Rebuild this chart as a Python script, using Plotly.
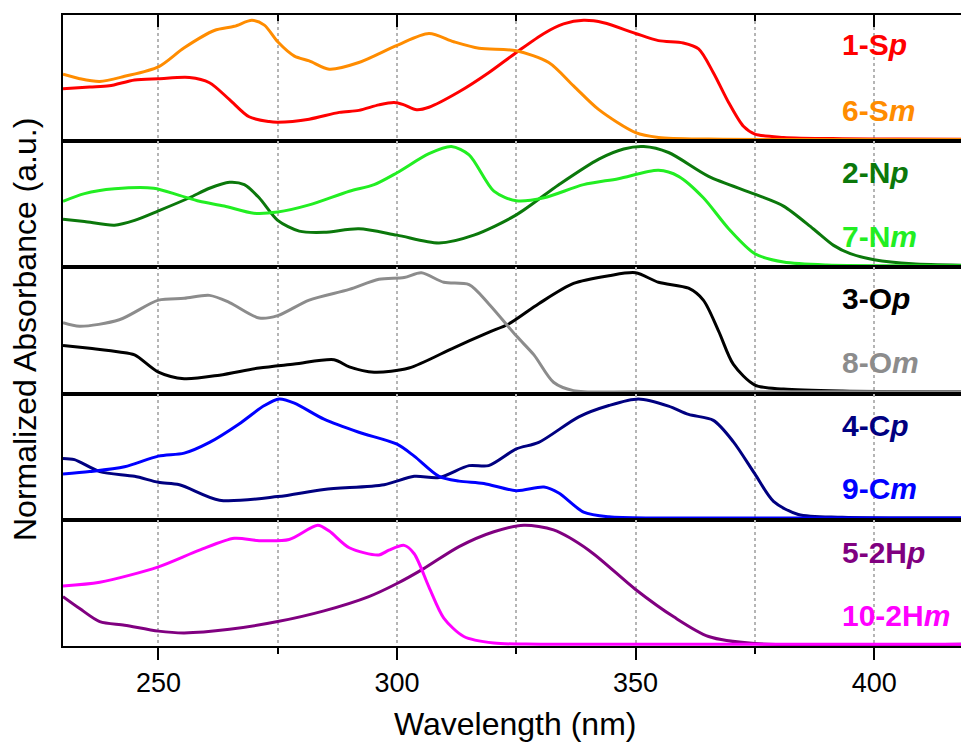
import plotly.graph_objects as go

# ---------------- data (normalized absorbance) ----------------
wl_1Sp = [230, 235.6, 239.7, 245, 250, 256.5, 260.7, 264.9, 269, 273.2, 275, 281.6, 287.9, 292, 296.2, 299.4,
          301.5, 304.1, 306.7, 313, 319.2, 325, 330.8, 334.9, 339.1, 343.3, 350, 354.8, 360, 363.2, 366.3,
          369.5, 372.6, 375, 381, 393.3, 405, 420]
ab_1Sp = [0.425, 0.44, 0.45, 0.50, 0.51, 0.52, 0.476, 0.334, 0.19, 0.15, 0.145, 0.17, 0.227, 0.244, 0.29, 0.31,
          0.29, 0.25, 0.27, 0.40, 0.56, 0.73, 0.89, 0.97, 1.0, 0.98, 0.89, 0.83, 0.81, 0.76, 0.56,
          0.31, 0.11, 0.045, 0.017, 0.006, 0.003, 0.002]

wl_6Sm = [230, 233.5, 237.7, 242.9, 250, 255.4, 261.7, 265.9, 269.6, 272.2, 275, 278.5, 281.6, 285.8, 292, 300,
          306.7, 311.9, 317.2, 325, 331.8, 337, 342.3, 350, 354.8, 365.3, 380, 420]
ab_6Sm = [0.547, 0.51, 0.487, 0.53, 0.61, 0.77, 0.915, 0.95, 1.0, 0.96, 0.82, 0.70, 0.66, 0.59, 0.646, 0.79,
          0.89, 0.82, 0.765, 0.745, 0.646, 0.45, 0.25, 0.057, 0.017, 0.003, 0.0, 0.0]

wl_2Np = [230, 234.5, 240.8, 245, 250, 256.5, 260.7, 264.9, 268, 271.1, 275, 279.5, 284.7, 292, 300, 308.8,
          316.1, 325, 333.9, 342.3, 347.5, 351.7, 356.9, 365.3, 375, 381, 387.2, 391.5, 395, 400, 408, 420]
ab_2Np = [0.39, 0.37, 0.34, 0.38, 0.46, 0.57, 0.65, 0.70, 0.68, 0.57, 0.38, 0.29, 0.28, 0.31, 0.256, 0.19,
          0.256, 0.426, 0.68, 0.895, 0.98, 1.0, 0.95, 0.75, 0.60, 0.50, 0.31, 0.17, 0.10, 0.05, 0.015, 0.003]

wl_7Nm = [230, 234.5, 240.8, 249, 254.4, 258.6, 263.8, 270, 275, 281.6, 290, 295.2, 300, 306.7, 311.4, 315.1,
          320.3, 325, 330.8, 339.1, 346.4, 354.8, 359, 364.2, 369.5, 375, 381, 390, 420]
ab_7Nm = [0.54, 0.605, 0.645, 0.65, 0.59, 0.54, 0.50, 0.44, 0.45, 0.51, 0.625, 0.68, 0.78, 0.94, 1.0, 0.93,
          0.625, 0.545, 0.57, 0.68, 0.73, 0.80, 0.75, 0.57, 0.31, 0.10, 0.03, 0.005, 0.0]

wl_3Op = [230, 235.6, 241.8, 245, 250, 255.4, 262.8, 271.1, 278.5, 286.8, 290, 295.2, 302.5, 311.9, 319.2,
          323.4, 329.7, 337, 344.4, 350, 354.8, 361.1, 364.2, 367.4, 370.5, 375, 381, 393.3, 420]
ab_3Op = [0.39, 0.365, 0.335, 0.31, 0.165, 0.11, 0.14, 0.20, 0.233, 0.27, 0.21, 0.165, 0.20, 0.37, 0.50,
          0.57, 0.74, 0.91, 0.975, 1.0, 0.92, 0.87, 0.77, 0.51, 0.23, 0.057, 0.023, 0.006, 0.0]

wl_8Om = [230, 233.5, 241.8, 250, 255.4, 260.7, 264.9, 271.1, 275, 281.6, 290, 296.2, 301.5, 305.1, 309.8,
          315.1, 319.2, 325, 328.7, 332.8, 337, 350, 420]
ab_8Om = [0.58, 0.55, 0.605, 0.77, 0.785, 0.81, 0.75, 0.62, 0.64, 0.77, 0.86, 0.945, 0.96, 1.0, 0.92,
          0.90, 0.74, 0.47, 0.31, 0.08, 0.01, 0.0, 0.0]

wl_4Cp = [230, 232.4, 237.7, 245, 250, 254.4, 262.8, 275, 284.7, 297.3, 303.6, 308.8, 315.1, 319.2, 325,
          329.7, 338.1, 344.4, 350.6, 356.9, 361.1, 366.3, 370.5, 375, 378.9, 384.1, 393.3, 420]
ab_4Cp = [0.50, 0.49, 0.39, 0.35, 0.30, 0.28, 0.15, 0.18, 0.24, 0.28, 0.35, 0.34, 0.44, 0.44, 0.58,
          0.635, 0.85, 0.945, 1.0, 0.94, 0.87, 0.82, 0.64, 0.37, 0.14, 0.03, 0.006, 0.0]

wl_9Cm = [230, 235.6, 242.9, 250, 255.4, 260.7, 266.9, 272.2, 275.3, 278.5, 284.7, 292, 300, 303.6, 308.8,
          313, 318.2, 325, 330.8, 333.9, 339.1, 344.4, 355, 420]
ab_9Cm = [0.37, 0.39, 0.43, 0.52, 0.545, 0.635, 0.79, 0.945, 1.0, 0.965, 0.83, 0.72, 0.62, 0.52, 0.35,
          0.31, 0.29, 0.23, 0.26, 0.21, 0.05, 0.01, 0.0, 0.0]

wl_52Hp = [230, 233.5, 237.7, 242.9, 250, 255.4, 264.9, 275, 284.7, 294.1, 300, 305.6, 313, 320.3, 326.6,
           332.8, 340.2, 350, 358, 365.3, 375, 420]
ab_52Hp = [0.40, 0.30, 0.19, 0.16, 0.11, 0.095, 0.125, 0.19, 0.28, 0.40, 0.51, 0.635, 0.82, 0.945, 1.0,
           0.96, 0.79, 0.46, 0.23, 0.065, 0.006, 0.0]

wl_102Hm = [230, 237.7, 250, 258.6, 265.9, 271.1, 277.4, 283.4, 285.8, 290, 296.2, 298.3, 301.5, 303.6, 306.7,
            309.8, 314, 320.3, 330, 420]
ab_102Hm = [0.49, 0.52, 0.65, 0.79, 0.89, 0.87, 0.88, 1.0, 0.95, 0.81, 0.75, 0.79, 0.83, 0.76, 0.48,
            0.22, 0.065, 0.01, 0.0, 0.0]

labels = ["1-S<i>p</i>", "6-S<i>m</i>", "2-N<i>p</i>", "7-N<i>m</i>", "3-O<i>p</i>", "8-O<i>m</i>",
          "4-C<i>p</i>", "9-C<i>m</i>", "5-2H<i>p</i>", "10-2H<i>m</i>"]
colors = ["#FF0000", "#FF8C00", "#0B780B", "#22EE22", "#000000", "#8C8C8C",
          "#000080", "#0000FF", "#800080", "#FF00FF"]
series = [(wl_1Sp, ab_1Sp), (wl_6Sm, ab_6Sm), (wl_2Np, ab_2Np), (wl_7Nm, ab_7Nm),
          (wl_3Op, ab_3Op), (wl_8Om, ab_8Om), (wl_4Cp, ab_4Cp), (wl_9Cm, ab_9Cm),
          (wl_52Hp, ab_52Hp), (wl_102Hm, ab_102Hm)]

x_range = [230, 418.2]
y_range = [-0.015, 1.045]
FONT = "Arial, Liberation Sans, Helvetica, sans-serif"
W, H = 961, 745
ML, MR, MT, MB = 63, 0, 15, 99

fig = go.Figure()

for i, ((wl, ab), col) in enumerate(zip(series, colors)):
    panel = i // 2 + 1
    xa = "x" if panel == 1 else f"x{panel}"
    ya = "y" if panel == 1 else f"y{panel}"
    fig.add_trace(go.Scatter(x=wl, y=ab, mode="lines", xaxis=xa, yaxis=ya,
                             line=dict(color=col, width=3, shape="spline", smoothing=0.8),
                             hoverinfo="skip", showlegend=False))

grid = dict(showgrid=True, gridcolor="#b5b5b5", griddash="dot", gridwidth=1.5)
layout = dict(width=W, height=H, margin=dict(l=ML, r=MR, t=MT, b=MB),
              plot_bgcolor="white", paper_bgcolor="white", showlegend=False,
              font=dict(family=FONT, color="black"))

for p in range(1, 6):
    top = 1 - (p - 1) / 5
    bot = 1 - p / 5
    xk = "xaxis" if p == 1 else f"xaxis{p}"
    yk = "yaxis" if p == 1 else f"yaxis{p}"
    yref = "y" if p == 1 else f"y{p}"
    ax = dict(range=x_range, anchor=yref, showline=True, linecolor="black", linewidth=2, mirror=True,
              dtick=50, zeroline=False, layer="above traces", **grid,
              minor=dict(dtick=25, **grid))
    if p != 1:
        ax["matches"] = "x"
    if p == 5:
        ax.update(ticks="outside", ticklen=12, tickwidth=2, tickcolor="black",
                  showticklabels=True, tickfont=dict(size=27, family=FONT, color="black"))
        ax["minor"].update(ticks="outside", ticklen=6, tickwidth=2, tickcolor="black")
    elif p == 1:
        # top frame carries inward-pointing ticks
        ax.update(side="top", ticks="inside", ticklen=12, tickwidth=2, tickcolor="black",
                  showticklabels=False)
        ax["minor"].update(ticks="inside", ticklen=6, tickwidth=2, tickcolor="black")
    else:
        ax.update(ticks="", showticklabels=False)
    layout[xk] = ax
    layout[yk] = dict(domain=[bot, top], range=y_range, anchor="x" if p == 1 else f"x{p}",
                      showline=True, linecolor="black", linewidth=2, showgrid=False,
                      zeroline=False, showticklabels=False, ticks="")

fig.update_layout(**layout)

# coordinate helpers for text placement (pixels from the top-left of the figure)
pw = W - ML - MR
ph = H - MT - MB
def px_x(x):
    return (x - ML) / pw
def px_y(y):
    return (H - MB - y) / ph

label_y = [45, 110, 172, 236, 298, 362, 425, 488, 552, 615]
for lab, col, yy in zip(labels, colors, label_y):
    fig.add_annotation(text=f"<b>{lab}</b>", x=px_x(840), y=px_y(yy), xref="paper", yref="paper",
                       xanchor="left", yanchor="middle", showarrow=False,
                       font=dict(size=30, color=col, family=FONT))

fig.add_annotation(text="Normalized Absorbance (a.u.)", textangle=-90, x=px_x(25), y=px_y(330),
                   xref="paper", yref="paper", xanchor="center", yanchor="middle", showarrow=False,
                   font=dict(size=32, color="black", family=FONT))
fig.add_annotation(text="Wavelength (nm)", x=px_x(515), y=px_y(724), xref="paper", yref="paper",
                   xanchor="center", yanchor="middle", showarrow=False,
                   font=dict(size=32, color="black", family=FONT))

# remove the default page margin so the figure fills the 961x745 window exactly
fig.write_html("out.html", config={"displayModeBar": False},
               post_script="document.body.style.margin='0';document.body.style.overflow='hidden';")
